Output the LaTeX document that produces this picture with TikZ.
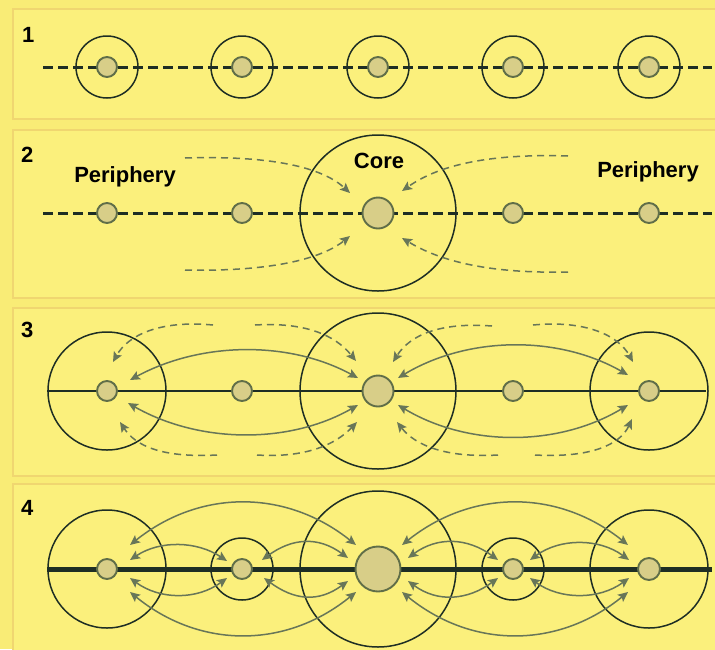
\documentclass[tikz,border=0pt]{standalone}
\usepackage{fontspec}
\setmainfont{Liberation Sans}
\usetikzlibrary{arrows.meta,calc}
\pgfdeclarelayer{bg}
\pgfsetlayers{bg,main}
\definecolor{bgc}{RGB}{249,236,118}
\definecolor{panelf}{RGB}{251,240,124}
\definecolor{panelb}{RGB}{240,214,112}
\definecolor{dotf}{RGB}{216,206,136}
\definecolor{dotb}{RGB}{96,110,72}
\definecolor{ringc}{RGB}{30,46,36}
\definecolor{arrc}{RGB}{104,118,88}
\begin{document}
\begin{tikzpicture}[x=1pt,y=-1pt,
  dot/.style={circle,draw=dotb,fill=dotf,line width=1.9pt,inner sep=0pt,minimum size=20pt},
  coredot/.style={dot,minimum size=31pt},
  bigcoredot/.style={dot,minimum size=45pt},
  ring/.style={draw=ringc,line width=1.5pt},
  panel/.style={fill=panelf,draw=panelb,line width=1.6pt},
  axisdash/.style={draw=ringc,line width=3pt,dash pattern=on 10pt off 5pt},
  axisthin/.style={draw=ringc,line width=2.3pt},
  axisthick/.style={draw=ringc,line width=5pt},
  tipx/.tip={Stealth[length=10pt,width=9pt,inset=2pt]},
  sarr/.style={draw=arrc,line width=1.5pt,tipx-tipx},
  darr/.style={draw=arrc,line width=1.5pt,dash pattern=on 7pt off 5pt,-tipx},
  num/.style={font=\fontsize{22}{26}\selectfont\bfseries,text=black,anchor=base west,inner sep=0pt},
  lbl/.style={font=\fontsize{22}{26}\selectfont\bfseries,text=black,anchor=base,inner sep=0pt}]
\useasboundingbox (0,0) rectangle (715,649);
\begin{pgfonlayer}{bg}
\fill[bgc] (0,0) rectangle (715,649);
\draw[panel] (13,9) rectangle (717,119);
\draw[panel] (13,130) rectangle (717,298);
\draw[panel] (13,308) rectangle (717,476);
\draw[panel] (13,484) rectangle (717,651);
\end{pgfonlayer}

\node[num] (n1) at (22,42) {1};
\node[num] (n2) at (21,162) {2};
\node[num] (n3) at (21,337) {3};
\node[num] (n4) at (21,515) {4};

% ---------- panel 1
\foreach \i/\x in {1/107,2/242,3/378,4/513,5/649}{
  \node[dot] (p1\i) at (\x,67) {};
}
\coordinate (l1a) at (43,67);
\coordinate (l1b) at (712,67);
\begin{pgfonlayer}{bg}
\draw[axisdash] (l1a) -- (l1b);
\foreach \i in {1,...,5}{\draw[ring] (p1\i.center) circle[radius=31];}
\end{pgfonlayer}

% ---------- panel 2
\node[dot] (p21) at (107,213) {};
\node[dot] (p22) at (242,213) {};
\node[coredot] (c2) at (378,213) {};
\node[dot] (p24) at (513,213) {};
\node[dot] (p25) at (649,213) {};
\coordinate (l2a) at (43,213);
\coordinate (l2b) at (712,213);
\begin{pgfonlayer}{bg}
\draw[axisdash] (l2a) -- (l2b);
\draw[ring] (c2.center) circle[radius=78];
\end{pgfonlayer}
\node[lbl] (per1) at (125,182) {Periphery};
\node[lbl] (core) at (379,168) {Core};
\node[lbl] (per2) at (648,177) {Periphery};
\coordinate (d2a) at (185,158);
\coordinate (d2b) at (185,270);
\coordinate (d2c) at (568,156);
\coordinate (d2d) at (568,272);
\draw[darr] (d2a) .. controls (280,155) and (325,170) .. ($(c2)+(-28,-20)$);
\draw[darr] (d2b) .. controls (280,272) and (325,256) .. ($(c2)+(-28,23)$);
\draw[darr] (d2c) .. controls (475,153) and (432,170) .. ($(c2)+(24,-22)$);
\draw[darr] (d2d) .. controls (475,274) and (432,256) .. ($(c2)+(24,25)$);

% ---------- panel 3
\node[dot] (L3) at (107,391) {};
\node[dot] (M3) at (242,391) {};
\node[coredot] (C3) at (378,391) {};
\node[dot] (N3) at (513,391) {};
\node[dot] (R3) at (649,391) {};
\coordinate (l3a) at (47,391);
\coordinate (l3b) at (706,391);
\begin{pgfonlayer}{bg}
\draw[axisthin] (l3a) -- (l3b);
\draw[ring] (L3.center) circle[radius=59];
\draw[ring] (C3.center) circle[radius=78];
\draw[ring] (R3.center) circle[radius=59];
\end{pgfonlayer}
\draw[sarr] ($(L3)+(23,-11)$) .. controls +(70,-38) and +(-70,-38) .. ($(C3)+(-20,-13)$);
\draw[sarr] ($(L3)+(21,12)$) .. controls +(70,40) and +(-70,40) .. ($(C3)+(-20,14)$);
\draw[sarr] ($(C3)+(20,-13)$) .. controls +(70,-42) and +(-70,-40) .. ($(R3)+(-21,-16)$);
\draw[sarr] ($(C3)+(20,14)$) .. controls +(70,42) and +(-70,42) .. ($(R3)+(-21,14)$);
\coordinate (d3a) at (213,325);
\coordinate (d3b) at (255,325);
\coordinate (d3c) at (217,455);
\coordinate (d3d) at (257,455);
\coordinate (d3e) at (492,326);
\coordinate (d3f) at (533,325);
\coordinate (d3g) at (498,455);
\coordinate (d3h) at (535,455);
\draw[darr] (d3a) .. controls (160,320) and (128,335) .. ($(L3)+(6,-29)$);
\draw[darr] (d3b) .. controls (305,322) and (335,335) .. ($(C3)+(-22,-30)$);
\draw[darr] (d3c) .. controls (160,458) and (135,445) .. ($(L3)+(13,31)$);
\draw[darr] (d3d) .. controls (305,458) and (335,445) .. ($(C3)+(-21,31)$);
\draw[darr] (d3e) .. controls (440,322) and (410,335) .. ($(C3)+(15,-29)$);
\draw[darr] (d3f) .. controls (585,320) and (618,335) .. ($(R3)+(-16,-29)$);
\draw[darr] (d3g) .. controls (445,458) and (415,445) .. ($(C3)+(19,31)$);
\draw[darr] (d3h) .. controls (590,458) and (620,445) .. ($(R3)+(-17,28)$);

% ---------- panel 4
\node[dot] (L4) at (107,569) {};
\node[dot] (M4) at (242,569) {};
\node[bigcoredot] (C4) at (378,569) {};
\node[dot] (N4) at (513,569) {};
\node[dot,minimum size=22pt] (R4) at (649,569) {};
\coordinate (l4a) at (47,569);
\coordinate (l4b) at (712,569);
\begin{pgfonlayer}{bg}
\draw[axisthick] (l4a) -- (l4b);
\draw[ring] (L4.center) circle[radius=59];
\draw[ring] (M4.center) circle[radius=31];
\draw[ring] (C4.center) circle[radius=78];
\draw[ring] (N4.center) circle[radius=31];
\draw[ring] (R4.center) circle[radius=59];
\end{pgfonlayer}
\draw[sarr] ($(L4)+(23,-24)$) .. controls +(70,-56) and +(-70,-56) .. ($(C4)+(-22,-24)$);
\draw[sarr] ($(L4)+(23,23)$) .. controls +(70,57) and +(-70,57) .. ($(C4)+(-22,23)$);
\draw[sarr] ($(L4)+(23,-9)$) .. controls +(30,-20) and +(-30,-20) .. ($(M4)+(-15,-8)$);
\draw[sarr] ($(L4)+(23,9)$) .. controls +(30,22) and +(-30,22) .. ($(M4)+(-15,9)$);
\draw[sarr] ($(M4)+(20,-9)$) .. controls +(30,-22) and +(-30,-22) .. ($(C4)+(-30,-11)$);
\draw[sarr] ($(M4)+(22,9)$) .. controls +(30,22) and +(-30,22) .. ($(C4)+(-30,12)$);
\draw[sarr] ($(C4)+(30,-11)$) .. controls +(30,-22) and +(-30,-22) .. ($(N4)+(-15,-9)$);
\draw[sarr] ($(C4)+(30,12)$) .. controls +(30,22) and +(-30,22) .. ($(N4)+(-15,9)$);
\draw[sarr] ($(N4)+(17,-9)$) .. controls +(30,-22) and +(-30,-22) .. ($(R4)+(-20,-9)$);
\draw[sarr] ($(N4)+(17,9)$) .. controls +(30,22) and +(-30,22) .. ($(R4)+(-20,9)$);
\draw[sarr] ($(C4)+(24,-24)$) .. controls +(70,-56) and +(-70,-56) .. ($(R4)+(-21,-24)$);
\draw[sarr] ($(C4)+(24,23)$) .. controls +(70,57) and +(-70,57) .. ($(R4)+(-21,23)$);
\end{tikzpicture}
\end{document}
